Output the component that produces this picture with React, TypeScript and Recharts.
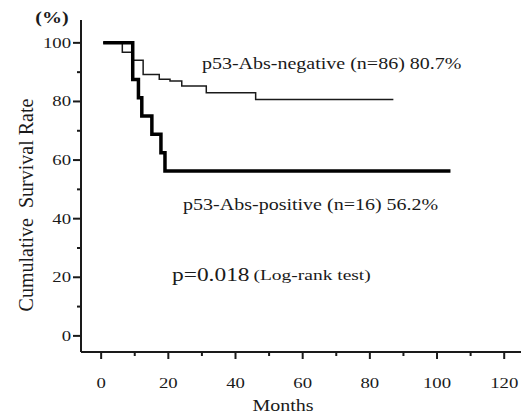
import React from 'react';
import { LineChart, Line, XAxis, YAxis, ReferenceDot } from 'recharts';

// Kaplan-Meier steps
const negMonths = [0.6, 6.3, 9.5, 12.5, 17.3, 20.5, 24, 31.3, 46, 87];
const negSurvival = [100, 96.8, 94.1, 89.2, 87.6, 87.0, 85.3, 83.0, 80.7, 80.7];
const posMonths = [0.6, 9.4, 11.1, 12.1, 15.1, 17.8, 19.0, 104];
const posSurvival = [100, 87.5, 81.3, 75, 68.8, 62.5, 56.3, 56.3];

const xTicks = [0, 10, 20, 30, 40, 50, 60, 70, 80, 90, 100, 110, 120];
const yTicks = [0, 10, 20, 30, 40, 50, 60, 70, 80, 90, 100];

const negLabel = 'p53-Abs-negative (n=86) 80.7%';
const posLabel = 'p53-Abs-positive (n=16) 56.2%';
const pValue = 'p=0.018';
const testName = '(Log-rank test)';

const negData = negMonths.map((m, i) => ({ month: m, value: negSurvival[i] }));
const posData = posMonths.map((m, i) => ({ month: m, value: posSurvival[i] }));

const FONT = '"Liberation Serif", "Times New Roman", serif';
const INK = '#1a1a1a';
const SX = 1.25; // the scan is stretched sideways

const XTick = (props: any) => {
    const { x, y, payload } = props;
    const major = payload.value % 20 === 0;
    return (
        <g>
            <line x1={x} x2={x} y1={y} y2={y + (major ? 7 : 4)} stroke={INK} strokeWidth={2} />
            {major && (
                <text transform={`translate(${x},${y + 36}) scale(${SX},1)`} textAnchor="middle" fontSize={15} fontFamily={FONT} fill={INK}>
                    {payload.value}
                </text>
            )}
        </g>
    );
};

const YTick = (props: any) => {
    const { x, y, payload } = props;
    const major = payload.value % 20 === 0;
    return (
        <g>
            <line x1={x - (major ? 8 : 4)} x2={x} y1={y} y2={y} stroke={INK} strokeWidth={2} />
            {major && (
                <text transform={`translate(${x - 10},${y + 5}) scale(${SX},1)`} textAnchor="end" fontSize={15} fontFamily={FONT} fill={INK}>
                    {payload.value}
                </text>
            )}
        </g>
    );
};

const YTitles = (props: any) => {
    const vb = props.viewBox;
    return (
        <g fontFamily={FONT} fill={INK}>
            <text transform={`translate(${vb.x + vb.width - 29},${vb.y + 3}) scale(${SX},1)`} textAnchor="middle" fontSize={16} fontWeight={700}>
                (%)
            </text>
            <text
                transform={`translate(${vb.x - 5},${vb.y + vb.height / 2 + 19}) rotate(-90)`}
                textAnchor="middle"
                dominantBaseline="central"
                fontSize={20}
                style={{ whiteSpace: 'pre' }}
            >
                {'Cumulative  Survival Rate'}
            </text>
        </g>
    );
};

const XTitle = (props: any) => {
    const vb = props.viewBox;
    return (
        <text transform={`translate(${vb.x + vb.width / 2 - 18},${vb.y + 59}) scale(${SX},1)`} textAnchor="middle" fontSize={16} fontFamily={FONT} fill={INK}>
            Months
        </text>
    );
};

const note = (text: string, size: number) => (props: any) => {
    const vb = props.viewBox;
    return (
        <text transform={`translate(${vb.x},${vb.y}) scale(${SX},1)`} dominantBaseline="central" fontSize={size} fontFamily={FONT} fill={INK}>
            {text}
        </text>
    );
};

const pNote = (props: any) => {
    const vb = props.viewBox;
    return (
        <text transform={`translate(${vb.x},${vb.y}) scale(1.3,1)`} dominantBaseline="central" fontFamily={FONT} fill={INK}>
            <tspan fontSize={18}>{pValue}</tspan>
            <tspan fontSize={15} dx={3}>{testName}</tspan>
        </text>
    );
};

export default function App() {
    return (
        <div style={{ position: 'absolute', left: 0, top: 0, background: '#fff' }}>
            <LineChart width={526} height={418} margin={{ top: 20, right: 5, left: 31, bottom: 36 }}>
                <XAxis
                    dataKey="month"
                    type="number"
                    domain={[-6, 125]}
                    ticks={xTicks}
                    interval={0}
                    allowDataOverflow
                    height={30}
                    tickSize={0}
                    tickMargin={0}
                    axisLine={{ stroke: INK, strokeWidth: 2 }}
                    tickLine={false}
                    tick={<XTick />}
                    label={<XTitle />}
                />
                <YAxis
                    type="number"
                    domain={[-5.5, 107.8]}
                    ticks={yTicks}
                    interval={0}
                    allowDataOverflow
                    width={50}
                    tickSize={0}
                    tickMargin={0}
                    axisLine={{ stroke: INK, strokeWidth: 2 }}
                    tickLine={false}
                    tick={<YTick />}
                    label={<YTitles />}
                />
                <Line data={negData} dataKey="value" type="stepAfter" stroke={INK} strokeWidth={1.5} dot={false} isAnimationActive={false} />
                <Line data={posData} dataKey="value" type="stepAfter" stroke="#000" strokeWidth={3.5} dot={false} isAnimationActive={false} />
                <ReferenceDot x={30} y={92.8} r={0} ifOverflow="visible" label={note(negLabel, 16)} />
                <ReferenceDot x={24.4} y={44.7} r={0} ifOverflow="visible" label={note(posLabel, 16)} />
                <ReferenceDot x={21.1} y={20.8} r={0} ifOverflow="visible" label={pNote} />
            </LineChart>
        </div>
    );
}
